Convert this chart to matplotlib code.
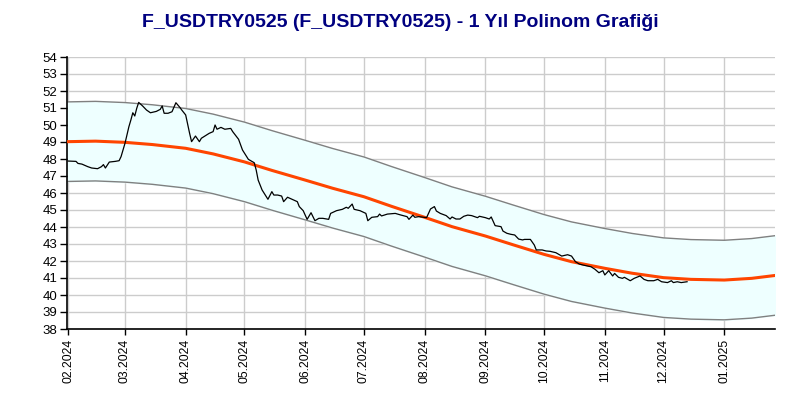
import matplotlib
matplotlib.use('Agg')
import matplotlib.pyplot as plt
import matplotlib.dates as mdates
import pandas as pd

# price
price_dates = [
    "2024-02-01", "2024-02-05", "2024-02-06", "2024-02-08", "2024-02-11", "2024-02-13",
    "2024-02-16", "2024-02-18", "2024-02-19", "2024-02-20", "2024-02-22", "2024-02-25",
    "2024-02-27", "2024-02-28", "2024-03-01", "2024-03-03", "2024-03-04", "2024-03-05",
    "2024-03-06", "2024-03-07", "2024-03-08", "2024-03-10", "2024-03-12", "2024-03-14",
    "2024-03-17", "2024-03-19", "2024-03-20", "2024-03-21", "2024-03-23", "2024-03-25",
    "2024-03-27", "2024-03-29", "2024-03-30", "2024-04-01", "2024-04-03", "2024-04-04",
    "2024-04-06", "2024-04-08", "2024-04-09", "2024-04-13", "2024-04-15", "2024-04-16",
    "2024-04-17", "2024-04-19", "2024-04-21", "2024-04-24", "2024-04-25", "2024-04-28",
    "2024-04-30", "2024-05-03", "2024-05-06", "2024-05-07", "2024-05-08", "2024-05-10",
    "2024-05-12", "2024-05-13", "2024-05-15", "2024-05-16", "2024-05-18", "2024-05-20",
    "2024-05-21", "2024-05-23", "2024-05-26", "2024-05-28", "2024-05-29", "2024-05-31",
    "2024-06-02", "2024-06-04", "2024-06-06", "2024-06-08", "2024-06-10", "2024-06-13",
    "2024-06-14", "2024-06-17", "2024-06-20", "2024-06-22", "2024-06-23", "2024-06-25",
    "2024-06-26", "2024-06-29", "2024-07-02", "2024-07-03", "2024-07-05", "2024-07-08",
    "2024-07-09", "2024-07-10", "2024-07-13", "2024-07-17", "2024-07-20", "2024-07-23",
    "2024-07-24", "2024-07-26", "2024-07-27", "2024-07-29", "2024-08-02", "2024-08-04",
    "2024-08-06", "2024-08-07", "2024-08-09", "2024-08-12", "2024-08-14", "2024-08-15",
    "2024-08-17", "2024-08-19", "2024-08-21", "2024-08-23", "2024-08-25", "2024-08-28",
    "2024-08-29", "2024-09-01", "2024-09-03", "2024-09-04", "2024-09-06", "2024-09-09",
    "2024-09-10", "2024-09-12", "2024-09-14", "2024-09-16", "2024-09-18", "2024-09-20",
    "2024-09-21", "2024-09-24", "2024-09-26", "2024-09-27", "2024-09-30", "2024-10-02",
    "2024-10-04", "2024-10-07", "2024-10-10", "2024-10-13", "2024-10-15", "2024-10-17",
    "2024-10-19", "2024-10-21", "2024-10-25", "2024-10-27", "2024-10-29", "2024-10-31",
    "2024-11-01", "2024-11-03", "2024-11-05", "2024-11-06", "2024-11-08", "2024-11-10",
    "2024-11-11", "2024-11-14", "2024-11-16", "2024-11-19", "2024-11-21", "2024-11-23",
    "2024-11-26", "2024-11-28", "2024-11-30", "2024-12-03", "2024-12-05", "2024-12-06",
    "2024-12-08", "2024-12-10", "2024-12-13",
]
price = [
    47.88, 47.86, 47.74, 47.70, 47.55, 47.47,
    47.43, 47.55, 47.67, 47.47, 47.82, 47.86,
    47.90, 48.14, 48.92, 49.90, 50.29, 50.72,
    50.53, 50.98, 51.33, 51.12, 50.88, 50.72,
    50.80, 50.92, 51.12, 50.69, 50.69, 50.78,
    51.31, 51.04, 50.88, 50.59, 49.51, 49.02,
    49.35, 49.02, 49.22, 49.51, 49.61, 50.00,
    49.75, 49.86, 49.75, 49.80, 49.61, 49.16,
    48.53, 47.98, 47.78, 47.35, 46.76, 46.18,
    45.82, 45.63, 46.08, 45.88, 45.88, 45.82,
    45.49, 45.75, 45.59, 45.49, 45.20, 44.96,
    44.45, 44.84, 44.37, 44.51, 44.51, 44.45,
    44.80, 44.96, 45.04, 45.16, 45.10, 45.35,
    45.04, 44.96, 44.80, 44.37, 44.57, 44.61,
    44.76, 44.65, 44.76, 44.80, 44.70, 44.61,
    44.45, 44.70, 44.57, 44.61, 44.55, 45.06,
    45.20, 44.94, 44.80, 44.67, 44.47, 44.59,
    44.47, 44.47, 44.63, 44.70, 44.67, 44.55,
    44.63, 44.55, 44.47, 44.59, 44.08, 44.02,
    43.76, 43.63, 43.57, 43.53, 43.29, 43.24,
    43.27, 43.27, 42.94, 42.65, 42.65, 42.59,
    42.57, 42.49, 42.29, 42.37, 42.29, 41.96,
    41.82, 41.76, 41.66, 41.51, 41.31, 41.43,
    41.18, 41.43, 41.12, 41.27, 41.04, 40.98,
    41.04, 40.84, 40.98, 41.12, 40.92, 40.84,
    40.84, 40.92, 40.78, 40.73, 40.84, 40.73,
    40.78, 40.73, 40.78,
]

# polynomial trend line and half band width
trend_dates = [
    "2024-02-01", "2024-02-15", "2024-03-01", "2024-03-15", "2024-04-01", "2024-04-15",
    "2024-05-01", "2024-05-15", "2024-06-01", "2024-06-15", "2024-07-01", "2024-07-15",
    "2024-08-01", "2024-08-15", "2024-09-01", "2024-09-15", "2024-10-01", "2024-10-15",
    "2024-11-01", "2024-11-15", "2024-12-01", "2024-12-15", "2025-01-01", "2025-01-15",
    "2025-01-27",
]
trend = [
    49.02, 49.05, 48.98, 48.85, 48.63, 48.30,
    47.83, 47.33, 46.76, 46.28, 45.78, 45.22,
    44.57, 44.02, 43.47, 42.96, 42.39, 41.96,
    41.57, 41.28, 41.02, 40.92, 40.88, 40.98,
    41.15,
]
band = 2.34

month_ticks = pd.date_range("2024-02-01", "2025-01-01", freq="MS")

px = pd.to_datetime(price_dates)
tx = pd.to_datetime(trend_dates)
upper = [v + band for v in trend]
lower = [v - band for v in trend]

fig = plt.figure(figsize=(8, 4), dpi=100)
ax = fig.add_axes([0.084, 0.1775, 0.885, 0.68])

ax.fill_between(tx, lower, upper, color="#eeffff", zorder=1)
ax.plot(tx, upper, color="#808080", lw=1, zorder=2)
ax.plot(tx, lower, color="#808080", lw=1, zorder=2)
ax.plot(tx, trend, color="#ff4500", lw=2.2, zorder=3)
ax.plot(px, price, color="black", lw=0.9, zorder=4)

ax.set_ylim(38, 54)
ax.set_yticks(range(38, 55))
ax.set_xlim(pd.Timestamp("2024-02-01") - pd.Timedelta(hours=12), pd.Timestamp("2025-01-27"))
ax.set_xticks(month_ticks)
ax.xaxis.set_major_formatter(mdates.DateFormatter("%m.%Y"))

ax.grid(True, color="#cccccc", lw=1, zorder=0)
ax.set_axisbelow(True)
for s in ["top", "right"]:
    ax.spines[s].set_visible(False)
ax.spines["left"].set_linewidth(1.2)
ax.spines["bottom"].set_linewidth(1.2)
ax.tick_params(axis="y", labelsize=9.5, length=5, width=1, pad=2)
ax.tick_params(axis="x", labelsize=8.8, length=4, width=1, pad=3, rotation=90)
for lab in ax.get_xticklabels() + ax.get_yticklabels():
    lab.set_fontfamily("Liberation Sans")

fig.text(0.5, 0.943, "F_USDTRY0525 (F_USDTRY0525) - 1 Yıl Polinom Grafiği",
         ha="center", va="center", fontsize=14, fontweight="bold",
         color="#000080", family="Liberation Sans")

fig.savefig("out.png", dpi=100)
